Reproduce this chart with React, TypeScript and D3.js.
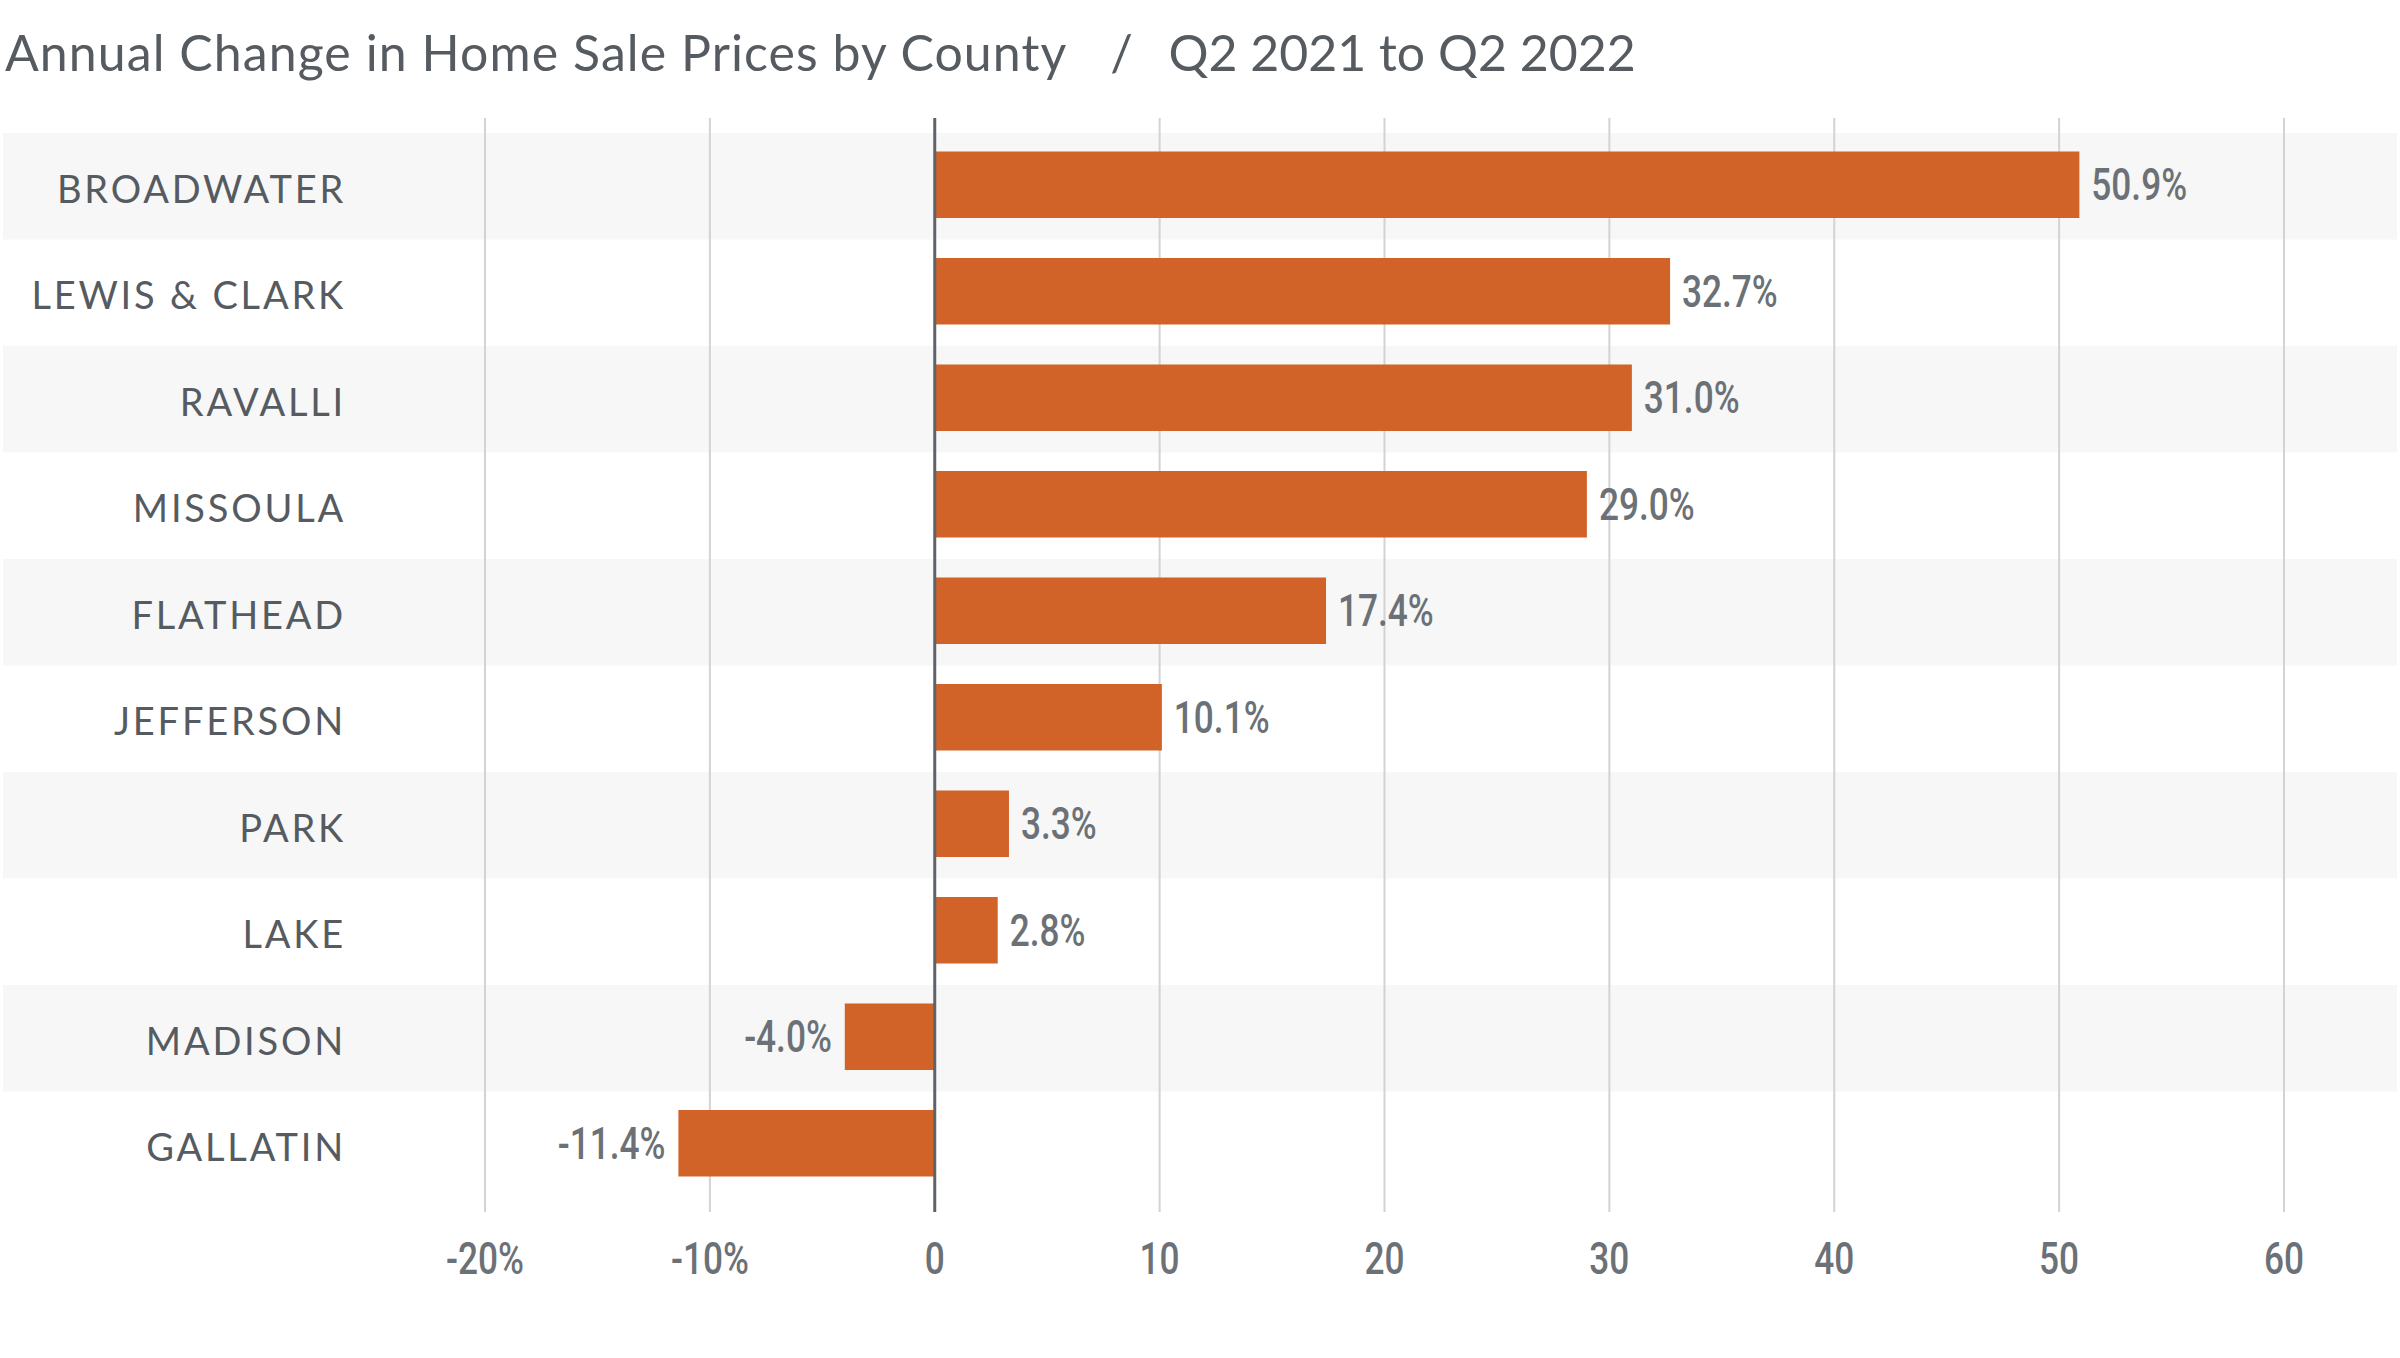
import React, { useEffect, useRef } from 'react';
import * as d3 from 'd3';

const counties = ['BROADWATER', 'LEWIS & CLARK', 'RAVALLI', 'MISSOULA', 'FLATHEAD', 'JEFFERSON', 'PARK', 'LAKE', 'MADISON', 'GALLATIN'];
const changes = [50.9, 32.7, 31.0, 29.0, 17.4, 10.1, 3.3, 2.8, -4.0, -11.4];
const ticks = [-20, -10, 0, 10, 20, 30, 40, 50, 60];
const tickLabels = ['-20%', '-10%', '0', '10', '20', '30', '40', '50', '60'];

const W = 2400;
const H = 1358;

const App: React.FC = () => {
  const ref = useRef<SVGSVGElement>(null);

  useEffect(() => {
    document.body.style.margin = '0';
    if (!ref.current) return;
    const svg = d3.select(ref.current);
    svg.selectAll('*').remove();

    const x = d3.scaleLinear().domain([-20, 60]).range([485, 2284]);
    const y = d3.scaleBand<string>().domain(counties).range([133, 133 + 106.5 * counties.length]).padding(0);
    const barOff = 18.5;
    const barH = 66.5;
    const condensed = 0.8;
    const numFont = 'Roboto, sans-serif';

    // row shading
    svg.append('g')
      .selectAll('rect')
      .data(counties.filter((_, i) => i % 2 === 0))
      .enter().append('rect')
      .attr('x', 3)
      .attr('width', 2394)
      .attr('y', d => y(d)!)
      .attr('height', y.bandwidth())
      .attr('fill', '#f7f7f7');

    // grid lines
    svg.append('g')
      .selectAll('line')
      .data(ticks.filter(t => t !== 0))
      .enter().append('line')
      .attr('x1', d => x(d))
      .attr('x2', d => x(d))
      .attr('y1', 118)
      .attr('y2', 1212)
      .attr('stroke', '#d3d3d3')
      .attr('stroke-width', 2);

    // bars
    svg.append('g')
      .selectAll('rect')
      .data(counties)
      .enter().append('rect')
      .attr('x', (d, i) => x(Math.min(0, changes[i])))
      .attr('width', (d, i) => Math.abs(x(changes[i]) - x(0)))
      .attr('y', d => y(d)! + barOff)
      .attr('height', barH)
      .attr('fill', '#d16228');

    // zero line
    svg.append('line')
      .attr('x1', x(0))
      .attr('x2', x(0))
      .attr('y1', 118)
      .attr('y2', 1212)
      .attr('stroke', '#5d6368')
      .attr('stroke-width', 3);

    // value labels
    svg.append('g')
      .selectAll('text')
      .data(counties)
      .enter().append('text')
      .attr('transform', (d, i) => {
        const v = changes[i];
        const tx = v >= 0 ? x(v) + 12 : x(v) - 13;
        const ty = y(d)! + barOff + barH / 2 + 15.5;
        return `translate(${tx},${ty}) scale(${condensed},1)`;
      })
      .attr('text-anchor', (d, i) => (changes[i] >= 0 ? 'start' : 'end'))
      .attr('font-family', numFont)
      .attr('font-weight', 500)
      .attr('font-size', 44)
      .attr('fill', '#6b7176')
      .text((d, i) => `${changes[i].toFixed(1)}%`);

    // category labels
    svg.append('g')
      .selectAll('text')
      .data(counties)
      .enter().append('text')
      .attr('x', 346)
      .attr('y', d => y(d)! + y.bandwidth() / 2 + 16.5)
      .attr('text-anchor', 'end')
      .attr('font-family', 'Lato, sans-serif')
      .attr('font-size', 38)
      .attr('letter-spacing', 2.8)
      .attr('fill', '#555b60')
      .text(d => d);

    // x tick labels
    svg.append('g')
      .selectAll('text')
      .data(ticks)
      .enter().append('text')
      .attr('transform', d => `translate(${x(d)},1274) scale(${condensed},1)`)
      .attr('text-anchor', 'middle')
      .attr('font-family', numFont)
      .attr('font-weight', 500)
      .attr('font-size', 44)
      .attr('fill', '#6b7176')
      .text((d, i) => tickLabels[i]);

    // title
    const title = svg.append('text')
      .attr('x', 5)
      .attr('y', 71)
      .attr('font-family', 'Lato, sans-serif')
      .attr('font-size', 50)
      .attr('fill', '#555b60');
    title.append('tspan').attr('letter-spacing', 1.07).text('Annual Change in Home Sale Prices by County');
    title.append('tspan').attr('dx', 43).text('/');
    title.append('tspan').attr('dx', 36).text('Q2 2021 to Q2 2022');
  }, []);

  return <svg ref={ref} width={W} height={H} style={{ display: 'block', background: '#fff' }} />;
};

export default App;
